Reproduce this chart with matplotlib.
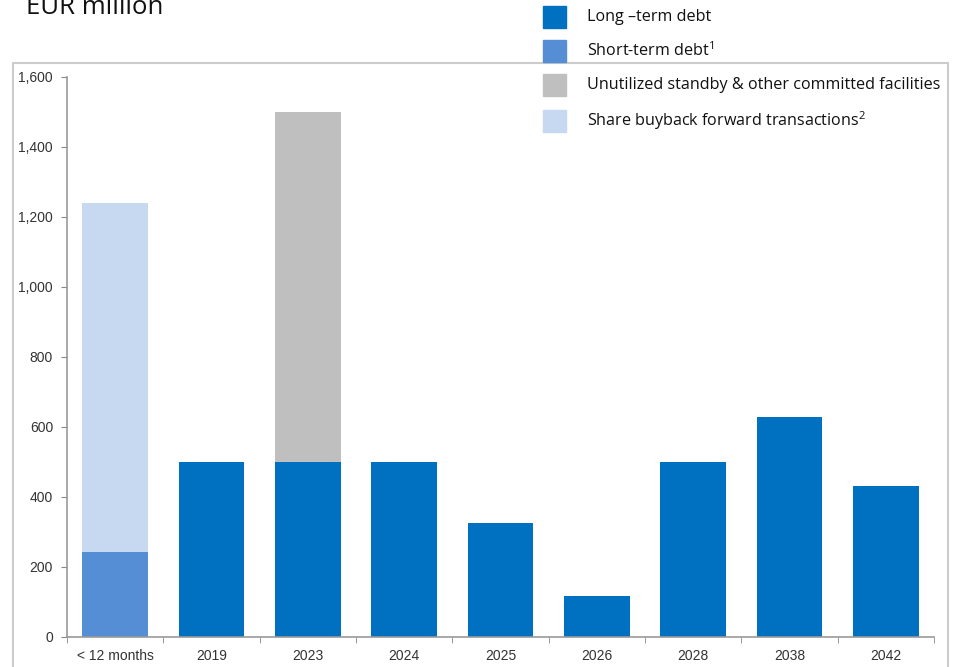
import matplotlib
matplotlib.use("Agg")
import matplotlib.pyplot as plt
import matplotlib.ticker as tkr
from matplotlib.patches import Rectangle
import numpy as np

categories = ["< 12 months", "2019", "2023", "2024", "2025", "2026", "2028", "2038", "2042"]
long_term = [0, 500, 500, 500, 327, 118, 500, 630, 432]
short_term = [242, 0, 0, 0, 0, 0, 0, 0, 0]
facilities = [0, 0, 1000, 0, 0, 0, 0, 0, 0]
buyback = [998, 0, 0, 0, 0, 0, 0, 0, 0]

legend_labels = ["Long \u2013term debt", "Short-term debt$^{1}$",
                 "Unutilized standby & other committed facilities",
                 "Share buyback forward transactions$^{2}$"]
colors = ["#0070c0", "#558ed5", "#bfbfbf", "#c6d9f1"]

plt.rcParams["mathtext.fontset"] = "custom"
plt.rcParams["mathtext.rm"] = "Open Sans"
plt.rcParams["mathtext.it"] = "Open Sans"

W, H = 961, 667
fig = plt.figure(figsize=(W / 100, H / 100), dpi=100)

def fx(x):
    return x / W

def fy(y):
    return 1 - y / H

# outer grey frame
fig.add_artist(Rectangle((fx(13), fy(700)), fx(935), fy(63) - fy(700),
                         transform=fig.transFigure, fill=False,
                         edgecolor="#cccccc", linewidth=1.5))

ax = fig.add_axes([fx(67), fy(637), fx(934) - fx(67), fy(77) - fy(637)])

x = np.arange(len(categories))
w = 0.68
base = np.zeros(len(categories))
for vals, c in zip([long_term, short_term, facilities, buyback], colors):
    ax.bar(x, vals, w, bottom=base, color=c, edgecolor="none")
    base = base + np.array(vals)

ax.set_xlim(-0.5, len(categories) - 0.5)
ax.set_ylim(0, 1600)
ax.yaxis.set_major_locator(tkr.MultipleLocator(200))
ax.yaxis.set_major_formatter(tkr.FuncFormatter(lambda v, _: "{:,.0f}".format(v)))

ax.set_xticks(x)
ax.set_xticklabels(categories)
ax.set_xticks(np.arange(len(categories) + 1) - 0.5, minor=True)
ax.tick_params(axis="x", which="major", length=0, pad=9)
ax.tick_params(axis="x", which="minor", length=4, color="#888888", direction="out")
ax.tick_params(axis="y", length=4, color="#888888", pad=6)
for lab in ax.get_xticklabels() + ax.get_yticklabels():
    lab.set_fontfamily("Liberation Sans")
    lab.set_fontsize(10)
    lab.set_color("#333333")

for s in ["top", "right"]:
    ax.spines[s].set_visible(False)
for s in ["left", "bottom"]:
    ax.spines[s].set_color("#999999")
    ax.spines[s].set_linewidth(1.2)

fig.text(fx(26), fy(14), "EUR million", fontsize=18.5, family="Open Sans",
         color="#111111", va="baseline", ha="left")

# legend
row_y = [17, 51, 85, 121]
for ry, lab, c in zip(row_y, legend_labels, colors):
    fig.add_artist(Rectangle((fx(543), fy(ry + 11)), fx(23), fy(ry - 11) - fy(ry + 11),
                             transform=fig.transFigure, color=c))
    fig.text(fx(587), fy(ry), lab, fontsize=11.6, family="Open Sans",
             color="#111111", va="center", ha="left")

fig.savefig("out.png", dpi=100)
